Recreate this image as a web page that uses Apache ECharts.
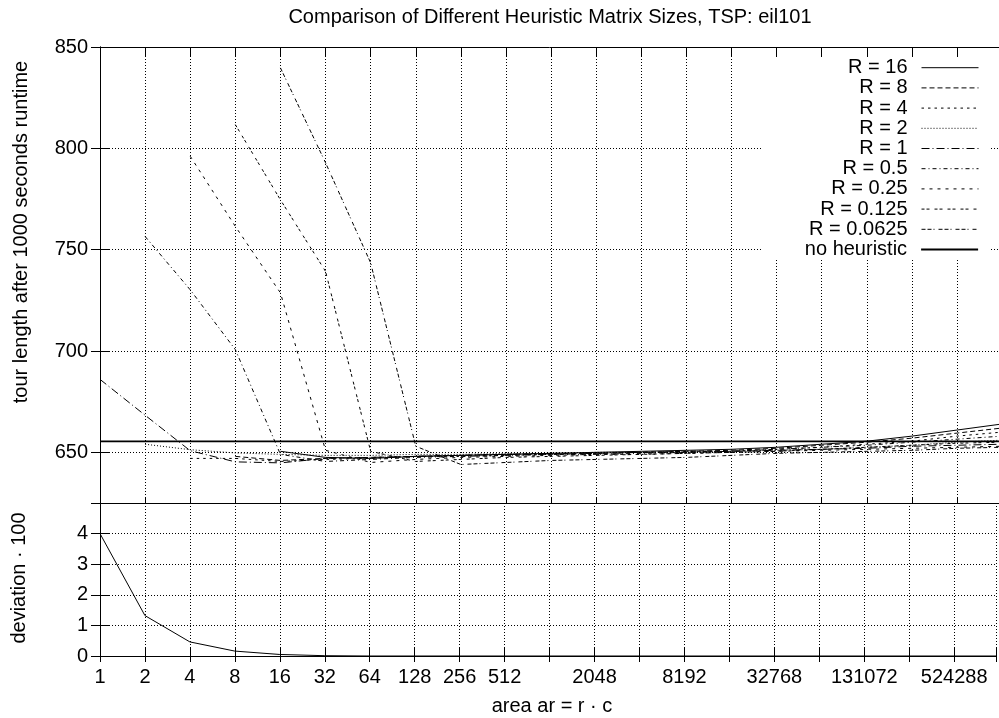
<!DOCTYPE html>
<html>
<head>
<meta charset="utf-8">
<title>Heuristic matrix sizes, eil101</title>
<script src="https://cdn.jsdelivr.net/npm/echarts@6/dist/echarts.min.js"></script>
<style>
  html, body { margin: 0; padding: 0; background: #fff; }
  #chart { width: 999px; height: 718px; }
</style>
</head>
<body>
<div id="chart"></div>
<script>
// x positions are exponents k of the matrix area ar = 2^k
const areaExponents = [0,1,2,3,4,5,6,7,8,9,10,11,12,13,14,15,16,17,18,19,20];
const xTickLabels = ['1','2','4','8','16','32','64','128','256','512','2048','8192','32768','131072','524288'];
const yTickValues = [650, 700, 750, 800, 850];

const seriesNames = ['R = 16','R = 8','R = 4','R = 2','R = 1','R = 0.5','R = 0.25','R = 0.125','R = 0.0625','no heuristic'];
// first area exponent measured for each series
const startExponents = [4, 3, 2, 1, 0, 1, 2, 3, 4, 0];

// tour length after 1000 s, one value per area exponent from the start exponent on
const lenR16     = [650.5, 647.5, 647.0, 648.0, 648.5, 649.0, 649.5, 650.0, 650.5, 651.0, 651.5, 652.5, 654.0, 655.5, 658.0, 661.0, 664.0];
const lenR8      = [648.0, 646.0, 647.0, 647.5, 648.0, 648.5, 649.0, 649.5, 649.5, 650.0, 650.5, 651.0, 652.0, 653.5, 655.0, 657.0, 659.5, 662.0];
const lenR4      = [647.0, 647.0, 645.5, 646.5, 647.0, 648.0, 648.0, 648.5, 649.0, 649.5, 650.0, 650.5, 650.5, 651.5, 652.5, 654.0, 655.5, 658.0, 660.0];
const lenR2      = [654.0, 651.3, 649.7, 649.0, 648.5, 648.5, 649.0, 649.0, 649.5, 649.5, 650.0, 650.0, 650.5, 650.5, 651.0, 651.5, 652.5, 653.5, 655.0, 656.0];
const lenR1      = [686.0, 668.3, 650.8, 645.3, 644.8, 647.0, 647.5, 648.0, 648.5, 649.0, 649.0, 649.5, 650.0, 650.0, 650.5, 651.0, 651.5, 652.0, 653.0, 653.5, 654.0];
const lenR05     = [756.5, 730.2, 700.7, 649.0, 645.5, 646.5, 647.5, 648.0, 648.5, 649.0, 649.0, 649.5, 650.0, 650.5, 651.5, 652.5, 653.5, 655.0, 656.5, 658.0];
const lenR025    = [796.1, 761.5, 728.7, 651.0, 645.0, 646.5, 647.5, 648.0, 648.5, 649.0, 649.0, 649.5, 650.0, 650.5, 651.0, 651.5, 652.0, 652.5, 653.0];
const lenR0125   = [811.7, 774.6, 739.3, 650.5, 645.5, 646.5, 647.5, 648.0, 648.5, 649.0, 649.5, 650.0, 650.5, 651.5, 652.5, 653.5, 654.5, 655.0];
const lenR00625  = [839.7, 792.9, 743.5, 653.0, 644.0, 645.0, 646.0, 646.5, 647.0, 647.5, 648.5, 649.5, 650.0, 650.5, 651.0, 652.0, 652.5];
const lenNoHeur  = [655.4, 655.4, 655.4, 655.4, 655.4, 655.4, 655.4, 655.4, 655.4, 655.4, 655.4, 655.4, 655.4, 655.4, 655.4, 655.4, 655.4, 655.4, 655.4, 655.4, 655.4];
const tourLengths = [lenR16, lenR8, lenR4, lenR2, lenR1, lenR05, lenR025, lenR0125, lenR00625, lenNoHeur];

// deviation * 100, one value per area exponent from 1 on
const deviation = [4.0, 1.32, 0.46, 0.16, 0.05, 0.01, 0, 0, 0, 0, 0, 0, 0, 0, 0, 0, 0, 0, 0, 0, 0];

const dashStyles = ['solid', [5, 3], [2.5, 4], [1, 2], [8, 3, 1, 3], [4, 3, 1, 3], [3, 5], [3, 2, 3, 5], [4, 2, 4, 2, 1, 4], 'solid'];
const lineWidths = [1, 1, 1, 1, 1, 1, 1, 1, 1, 1.8];

const FONT = 'Liberation Sans, Arial, Helvetica, sans-serif';
const X_MAX = 19.93;

const chart = echarts.init(document.getElementById('chart'), null, { renderer: 'canvas' });

const gridLine = { show: true, lineStyle: { color: '#000', width: 1, type: [1, 2] } };
const frameLine = { show: true, lineStyle: { color: '#000', width: 1 } };

function xAxisFor(gridIndex, position, opts) {
  return Object.assign({
    type: 'value', gridIndex, position,
    min: 0, max: X_MAX, interval: 1,
    axisLine: frameLine,
    axisTick: { show: true, inside: true, length: 9, lineStyle: { color: '#000' } },
    axisLabel: { show: false },
    splitLine: { show: false }
  }, opts);
}

const xLabelFormatter = (k) => {
  const s = String(Math.pow(2, k));
  return Number.isInteger(k) && xTickLabels.includes(s) ? s : '';
};

const xAxes = [
  xAxisFor(0, 'bottom', { splitLine: gridLine, axisTick: { show: true, inside: true, length: 6, lineStyle: { color: '#000' } } }),
  xAxisFor(0, 'top', {}),
  xAxisFor(1, 'bottom', {
    splitLine: gridLine,
    axisLabel: { show: true, formatter: xLabelFormatter, color: '#000', fontSize: 20, fontFamily: FONT, margin: 11, showMinLabel: true, showMaxLabel: true, hideOverlap: false }
  }),
  xAxisFor(1, 'top', { axisTick: { show: true, inside: true, length: 6, lineStyle: { color: '#000' } } })
];

const yAxes = [
  {
    type: 'value', gridIndex: 0, position: 'left', min: 625, max: 850,
    axisLine: frameLine,
    axisTick: { show: true, inside: true, length: 9, lineStyle: { color: '#000' }, customValues: yTickValues },
    axisLabel: { show: true, color: '#000', fontSize: 20, fontFamily: FONT, margin: 12, customValues: yTickValues },
    splitLine: gridLine
  },
  {
    type: 'value', gridIndex: 0, position: 'right', min: 625, max: 850,
    axisLine: frameLine,
    axisTick: { show: true, inside: true, length: 9, lineStyle: { color: '#000' }, customValues: yTickValues },
    axisLabel: { show: false },
    splitLine: { show: false }
  },
  {
    type: 'value', gridIndex: 1, position: 'left', min: 0, max: 5, interval: 1,
    axisLine: frameLine,
    axisTick: { show: true, inside: true, length: 9, lineStyle: { color: '#000' } },
    axisLabel: { show: true, color: '#000', fontSize: 20, fontFamily: FONT, margin: 12, formatter: (v) => (v === 5 ? '' : String(v)) },
    splitLine: gridLine
  },
  {
    type: 'value', gridIndex: 1, position: 'right', min: 0, max: 5, interval: 1,
    axisLine: frameLine,
    axisTick: { show: true, inside: true, length: 9, lineStyle: { color: '#000' } },
    axisLabel: { show: false },
    splitLine: { show: false }
  }
];

const series = seriesNames.map((name, i) => ({
  name,
  type: 'line',
  xAxisIndex: 0, yAxisIndex: 0,
  data: tourLengths[i].map((v, j) => [areaExponents[startExponents[i] + j], v]),
  showSymbol: false, symbol: 'none',
  lineStyle: { color: '#000', width: lineWidths[i], type: dashStyles[i] },
  itemStyle: { color: '#000' },
  emphasis: { disabled: true },
  animation: false,
  z: 3
}));

series.push({
  name: 'deviation',
  type: 'line',
  xAxisIndex: 2, yAxisIndex: 2,
  data: deviation.map((v, j) => [areaExponents[j], v]),
  showSymbol: false, symbol: 'none',
  lineStyle: { color: '#000', width: 1 },
  emphasis: { disabled: true },
  animation: false,
  z: 3
});

// one key entry per row, right aligned, line sample on the right
const legends = seriesNames.map((name, i) => ({
  data: [name],
  orient: 'vertical',
  right: 20,
  top: 67.7 + 20.2 * i - 10,
  align: 'right',
  itemWidth: 57,
  itemHeight: 14,
  padding: 0,
  selectedMode: false,
  itemStyle: { opacity: 0, borderWidth: 0 },
  lineStyle: { color: '#000', width: lineWidths[i], type: dashStyles[i] },
  textStyle: { color: '#000', fontSize: 20, fontFamily: FONT, lineHeight: 20, padding: [0, 9, 0, 0] }
}));

chart.setOption({
  animation: false,
  backgroundColor: '#fff',
  grid: [
    { left: 100, top: 47, width: 901, height: 456 },
    { left: 100, top: 503, width: 901, height: 153 }
  ],
  xAxis: xAxes,
  yAxis: yAxes,
  legend: legends,
  series,
  graphic: [
    { type: 'rect', z: 1, shape: { x: 761, y: 57, width: 229, height: 202 }, style: { fill: '#fff' } },
    { type: 'text', x: 550, y: 17, style: { text: 'Comparison of Different Heuristic Matrix Sizes, TSP: eil101', fill: '#000', fontSize: 20, fontFamily: FONT, align: 'center', verticalAlign: 'middle' } },
    { type: 'text', x: 21, y: 232, rotation: Math.PI / 2, style: { text: 'tour length after 1000 seconds runtime', fill: '#000', fontSize: 20, fontFamily: FONT, align: 'center', verticalAlign: 'middle' } },
    { type: 'text', x: 19, y: 578, rotation: Math.PI / 2, style: { text: 'deviation \u00b7 100', fill: '#000', fontSize: 20, fontFamily: FONT, align: 'center', verticalAlign: 'middle' } },
    { type: 'text', x: 552, y: 706, style: { text: 'area ar = r \u00b7 c', fill: '#000', fontSize: 20, fontFamily: FONT, align: 'center', verticalAlign: 'middle' } }
  ]
});
</script>
</body>
</html>
